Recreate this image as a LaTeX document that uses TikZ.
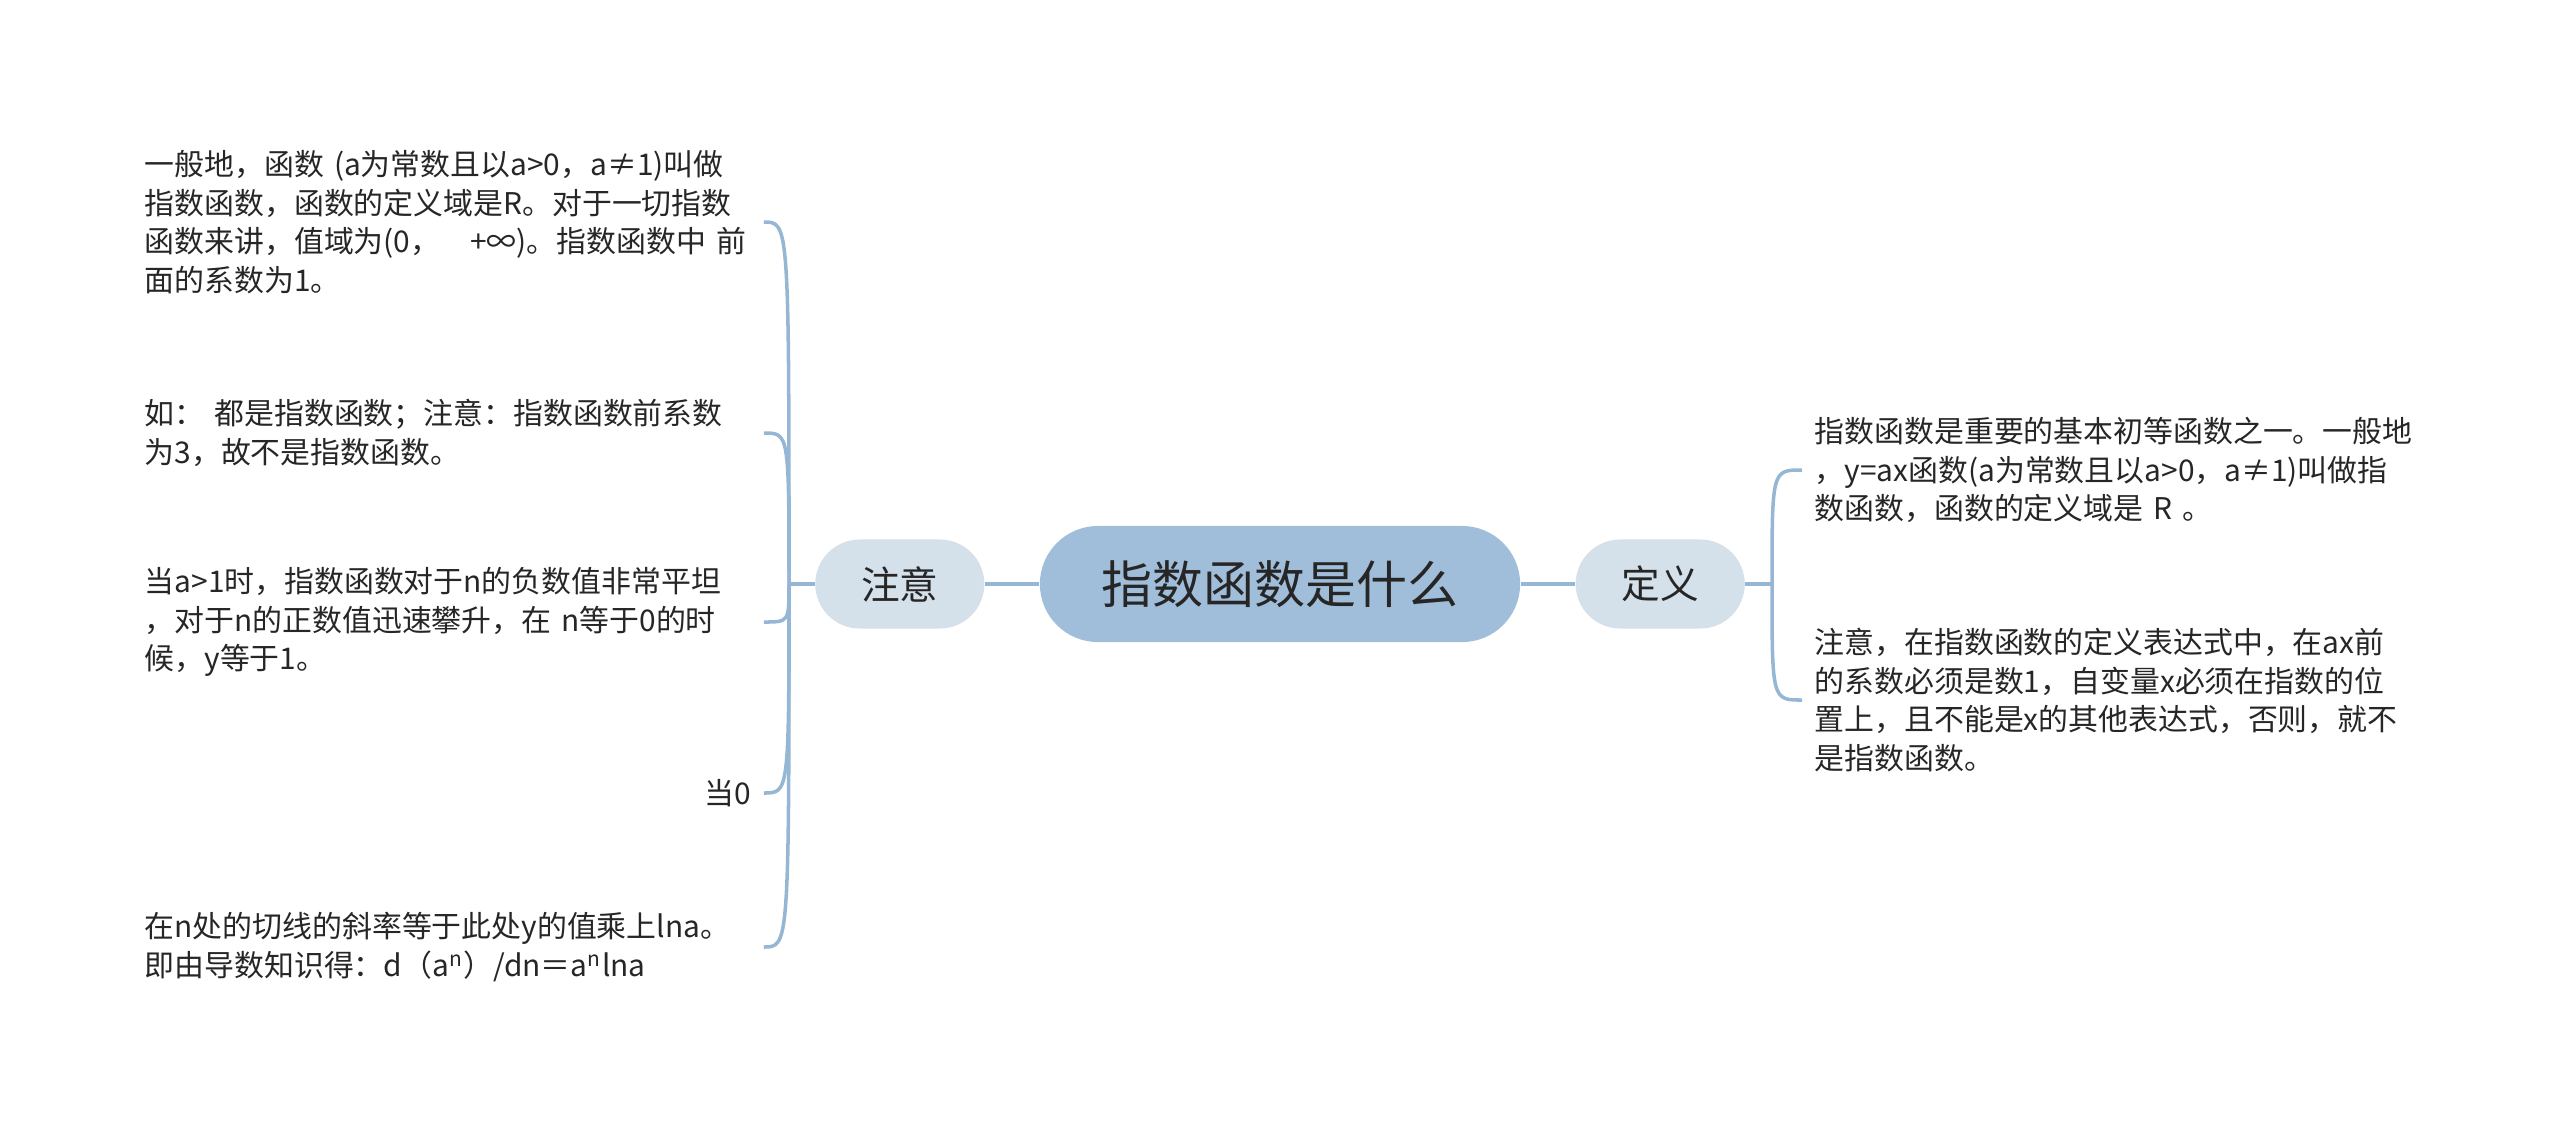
\documentclass[tikz,border=0pt]{standalone}
\usepackage{fontspec}
\setmainfont{Noto Sans CJK SC}
\usepackage{xcolor}
\usepackage{tikz}
\usetikzlibrary{positioning}

\definecolor{rootblue}{RGB}{160,190,218}
\definecolor{topicblue}{RGB}{212,224,234}
\definecolor{linkblue}{RGB}{150,183,212}
\definecolor{inkgray}{RGB}{38,38,38}

\begin{document}
\begin{tikzpicture}[x=0.01cm, y=-0.01cm, node distance=3.8cm, align=center, text=inkgray]
    % Define styles
    \tikzstyle{root} = [rectangle, rounded corners=0.58cm, minimum width=4.8cm, minimum height=1.16cm, text centered, fill=rootblue, font=\fontsize{14.5pt}{17pt}\selectfont]
    \tikzstyle{topic} = [rectangle, rounded corners=0.445cm, minimum width=1.69cm, minimum height=0.89cm, text centered, fill=topicblue, font=\fontsize{11pt}{13pt}\selectfont]
    \tikzstyle{leaf} = [rectangle, anchor=west, align=left, text width=6.06cm, inner xsep=0.12cm, inner ysep=0.05cm, font=\fontsize{8.5pt}{10.95pt}\selectfont]
    \tikzstyle{trunk} = [linkblue, line width=1.2pt]
    \tikzstyle{link} = [linkblue, line width=1pt]

    \useasboundingbox (0,0) rectangle (2560,1129);

    % Nodes
    \node (root) [root] at (1280,584) {指数函数是什么};
    \node (note) [topic, left of=root] {注意};
    \node (defn) [topic, right of=root] {定义};

    \node (n1) [leaf] at (132,222) {一般地，函数 (a为常数且以a>0，a≠1)叫做\\指数函数，函数的定义域是R。对于一切指数\\函数来讲，值域为(0，　+∞)。指数函数中 前\\面的系数为1。};
    \node (n2) [leaf] at (132,433) {如：\ 都是指数函数；注意：指数函数前系数\\为3，故不是指数函数。};
    \node (n3) [leaf] at (132,622) {当a>1时，指数函数对于n的负数值非常平坦\\，对于n的正数值迅速攀升，在 n等于0的时\\候，y等于1。};
    \node (n4) [leaf, align=right] at (132,793) {当0};
    \node (n5) [leaf] at (132,947) {在n处的切线的斜率等于此处y的值乘上lna。\\即由导数知识得：d（a\textsuperscript{n}）/dn＝a\textsuperscript{n}lna};

    \node (d1) [leaf] at (1802,470) {指数函数是重要的基本初等函数之一。一般地\\，y=ax函数(a为常数且以a>0，a≠1)叫做指\\数函数，函数的定义域是 R 。};
    \node (d2) [leaf] at (1802,700) {注意，在指数函数的定义表达式中，在ax前\\的系数必须是数1，自变量x必须在指数的位\\置上，且不能是x的其他表达式，否则，就不\\是指数函数。};

    \coordinate (lj) at (789,584);
    \coordinate (rj) at (1772,584);

    % Lines
    \draw [trunk] (root) -- (note);
    \draw [trunk] (note) -- (lj);
    \draw [trunk] (root) -- (defn);
    \draw [trunk] (defn) -- (rj);
    \foreach \leaf in {n1,n2,n3,n4,n5}
        \draw [link] (lj) .. controls (lj |- \leaf.east) .. (\leaf.east);
    \foreach \leaf in {d1,d2}
        \draw [link] (rj) .. controls (rj |- \leaf.west) .. (\leaf.west);
\end{tikzpicture}
\end{document}
